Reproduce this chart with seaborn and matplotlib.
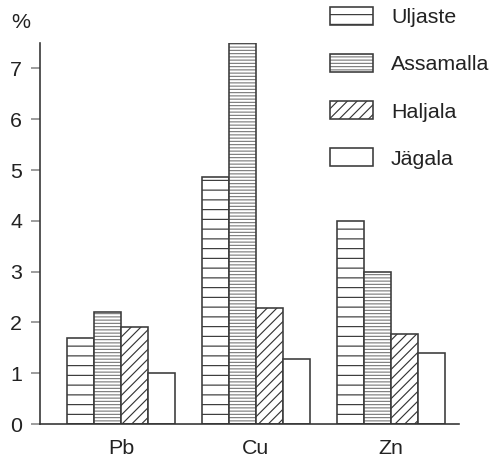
import matplotlib
matplotlib.use("Agg")
import matplotlib.pyplot as plt
import seaborn as sns
import pandas as pd

elements = ["Pb", "Cu", "Zn"]
sites = ["Uljaste", "Assamalla", "Haljala", "Jägala"]
uljaste = [1.7, 4.87, 4.0]
assamalla = [2.2, 7.5, 3.0]
haljala = [1.9, 2.28, 1.78]
jagala = [1.0, 1.28, 1.4]
yticks = [0, 1, 2, 3, 4, 5, 6, 7]
hatches = ["--", "------", "////", ""]
hatch_colors = ["#333333", "#7a7a7a", "#333333", "#333333"]

DPI = 117
sns.set_theme(style="white")
plt.rcParams["font.family"] = ["Liberation Sans", "DejaVu Sans"]
plt.rcParams["hatch.linewidth"] = 0.7

rows = []
for site, vals in zip(sites, [uljaste, assamalla, haljala, jagala]):
    for el, v in zip(elements, vals):
        rows.append({"element": el, "site": site, "value": v})
df = pd.DataFrame(rows)

fig = plt.figure(figsize=(490 / DPI, 463 / DPI), dpi=DPI)
ax = fig.add_axes([40 / 490, 1 - 424 / 463, (459 - 40) / 490, (424 - 43) / 463])

edge = "#3c3c3c"
sns.barplot(data=df, x="element", y="value", hue="site", order=elements,
            hue_order=sites, ax=ax, width=0.8,
            palette=["white"] * 4, edgecolor=edge, linewidth=1.0,
            legend=False, errorbar=None)

for cont, h, hc in zip(ax.containers, hatches, hatch_colors):
    for bar in cont:
        bar.set_hatch(h)
        bar.set_facecolor("white")
        bar.set_edgecolor(edge)
        bar._hatch_color = matplotlib.colors.to_rgba(hc)

ax.set_xlim(-0.6, 2.504)
ax.set_ylim(0, 7.5)
ax.set_yticks(yticks)
ax.set_yticklabels([str(t) for t in yticks])
ax.set_xlabel("")
ax.set_ylabel("")
for s in ["top", "right"]:
    ax.spines[s].set_visible(False)
for s in ["left", "bottom"]:
    ax.spines[s].set_color("#333333")
    ax.spines[s].set_linewidth(1.0)
FS = 13.2
ax.tick_params(axis="y", direction="out", length=5.5, width=1.0,
               color="#888888", pad=5.5, labelsize=FS, labelcolor="#222222", left=True)
ax.tick_params(axis="x", length=0, pad=9.5, labelsize=FS, labelcolor="#222222")

fig.text(21 / 490, 1 - 23 / 463, "%", ha="center", va="center",
         fontsize=FS, color="#222222")

handles = [cont.patches[0] for cont in ax.containers]
leg = fig.legend(handles=handles, labels=sites, loc="upper left",
                 bbox_to_anchor=(330 / 490, 1 - 7 / 463), frameon=False,
                 borderpad=0, borderaxespad=0, handlelength=2.0,
                 handleheight=0.9, handletextpad=0.85, labelspacing=1.25,
                 fontsize=FS)
for t in leg.get_texts():
    t.set_color("#222222")
for lh, hc in zip(leg.legend_handles, hatch_colors):
    lh._hatch_color = matplotlib.colors.to_rgba(hc)

fig.savefig("out.png", dpi=DPI)
